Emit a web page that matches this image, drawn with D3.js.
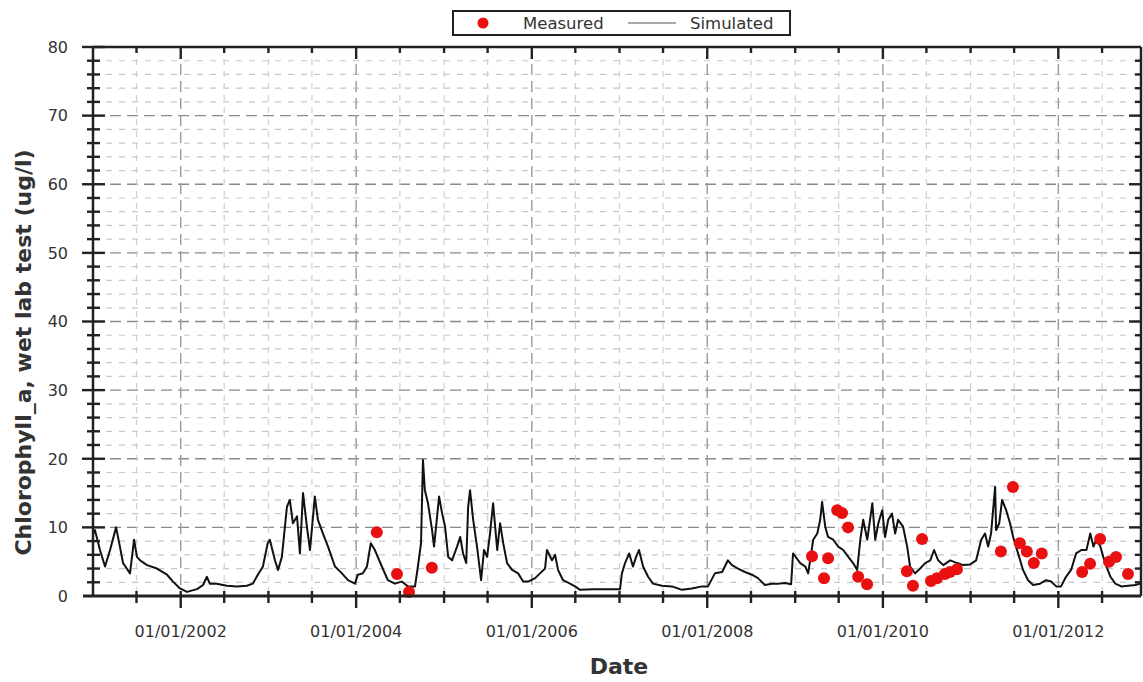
<!DOCTYPE html>
<html>
<head>
<meta charset="utf-8">
<script src="https://cdn.jsdelivr.net/npm/d3@7/dist/d3.min.js"></script>
<style>
  html, body { margin: 0; padding: 0; background: #fff; }
  svg { display: block; font-family: "DejaVu Sans", Verdana, sans-serif; }
</style>
</head>
<body>
<svg id="chart" width="1143" height="682"></svg>
<script>
// Simulated chlorophyll-a series (date, ug/l)
const simDates = [
  "2001-01-01","2001-01-09","2001-01-30","2001-02-20","2001-03-13","2001-04-07","2001-04-23","2001-05-06",
  "2001-06-04","2001-06-21","2001-07-03","2001-07-16","2001-08-14","2001-09-24","2001-11-05","2001-11-30",
  "2001-12-29","2002-01-27","2002-03-10","2002-04-04","2002-04-20","2002-05-02","2002-05-31","2002-07-12",
  "2002-08-23","2002-10-03","2002-10-28","2002-11-18","2002-12-09","2002-12-29","2003-01-07","2003-01-28",
  "2003-02-10","2003-02-26","2003-03-19","2003-03-31","2003-04-13","2003-04-30","2003-05-12","2003-05-25",
  "2003-06-10","2003-06-23","2003-07-13","2003-07-26","2003-08-16","2003-09-06","2003-10-05","2003-11-03",
  "2003-11-28","2003-12-27","2004-01-08","2004-01-29","2004-02-15","2004-03-02","2004-03-19","2004-04-17",
  "2004-05-12","2004-06-10","2004-07-09","2004-08-03","2004-09-02","2004-09-14","2004-09-27","2004-10-05",
  "2004-10-13","2004-10-26","2004-11-12","2004-11-20","2004-12-03","2004-12-11","2004-12-24","2005-01-05",
  "2005-01-18","2005-02-03","2005-02-24","2005-03-09","2005-03-21","2005-04-03","2005-04-11","2005-04-19",
  "2005-05-02","2005-05-18","2005-06-04","2005-06-16","2005-06-29","2005-07-11","2005-07-24","2005-08-10",
  "2005-08-22","2005-09-04","2005-09-20","2005-10-11","2005-11-05","2005-11-26","2005-12-17","2006-01-15",
  "2006-02-04","2006-02-25","2006-03-05","2006-03-26","2006-04-08","2006-04-20","2006-05-11","2006-06-09",
  "2006-06-30","2006-07-21","2006-09-13","2006-11-09","2007-01-03","2007-01-11","2007-01-24","2007-02-10",
  "2007-02-26","2007-03-11","2007-03-23","2007-04-09","2007-04-30","2007-05-20","2007-06-27","2007-08-07",
  "2007-09-18","2007-10-29","2007-12-10","2008-01-04","2008-02-02","2008-03-03","2008-03-27","2008-04-13",
  "2008-05-08","2008-06-06","2008-07-05","2008-07-30","2008-08-28","2008-09-26","2008-10-21","2008-11-20",
  "2008-12-15","2008-12-23","2009-01-22","2009-02-12","2009-02-24","2009-03-17","2009-04-03","2009-04-15",
  "2009-04-23","2009-05-06","2009-05-18","2009-06-08","2009-06-29","2009-07-20","2009-08-10","2009-08-30",
  "2009-09-16","2009-09-29","2009-10-11","2009-10-28","2009-11-18","2009-11-30","2009-12-13","2009-12-29",
  "2010-01-10","2010-01-23","2010-02-08","2010-02-21","2010-03-05","2010-03-26","2010-04-12","2010-04-24",
  "2010-05-15","2010-06-05","2010-06-26","2010-07-17","2010-08-02","2010-08-19","2010-09-09","2010-10-08",
  "2010-11-06","2010-12-01","2010-12-30","2011-01-24","2011-02-14","2011-03-02","2011-03-15","2011-03-27",
  "2011-04-13","2011-04-17","2011-04-30","2011-05-12","2011-05-29","2011-06-14","2011-06-27","2011-07-09",
  "2011-07-26","2011-08-07","2011-08-28","2011-09-18","2011-10-17","2011-11-11","2011-12-02","2011-12-23",
  "2012-01-12","2012-02-02","2012-02-23","2012-03-15","2012-04-06","2012-04-27","2012-05-13","2012-05-26",
  "2012-06-07","2012-06-24","2012-07-06","2012-07-19","2012-08-05","2012-08-25","2012-09-19","2012-10-18",
  "2012-11-16","2012-12-07"
];
const simValues = [
  9.0, 9.6, 6.7, 4.3, 6.7, 10.0, 7.2, 4.8,
  3.3, 8.2, 5.7, 5.2, 4.5, 4.0, 3.1, 2.1,
  1.1, 0.6, 1.0, 1.6, 2.8, 1.8, 1.8, 1.5,
  1.4, 1.5, 1.8, 3.1, 4.3, 7.7, 8.2, 5.2,
  3.8, 5.7, 13.0, 14.0, 10.6, 11.6, 6.2, 15.0,
  10.1, 6.7, 14.5, 11.1, 9.1, 7.2, 4.3, 3.3,
  2.3, 1.8, 3.1, 3.3, 4.3, 7.7, 6.7, 4.3,
  2.3, 1.8, 2.1, 1.4, 1.4, 4.3, 7.7, 19.8,
  15.4, 13.5, 9.6, 7.2, 11.6, 14.5, 12.0, 10.1,
  5.7, 5.2, 7.2, 8.6, 6.2, 4.8, 13.0, 15.4,
  11.1, 7.2, 2.3, 6.7, 5.7, 9.1, 13.5, 6.7,
  10.6, 7.7, 4.8, 3.8, 3.3, 2.1, 2.1, 2.6,
  3.3, 4.0, 6.7, 5.2, 6.0, 3.8, 2.3, 1.8,
  1.4, 0.9, 1.0, 1.0, 1.0, 3.3, 4.8, 6.2,
  4.3, 5.7, 6.7, 4.3, 2.8, 1.8, 1.5, 1.4,
  0.9, 1.1, 1.4, 1.4, 3.3, 3.5, 5.2, 4.5,
  4.0, 3.5, 3.1, 2.6, 1.6, 1.8, 1.8, 1.9,
  1.7, 6.2, 4.8, 4.3, 3.3, 8.2, 9.1, 11.1,
  13.7, 10.1, 8.6, 8.2, 7.2, 6.7, 5.7, 4.8,
  3.8, 8.2, 11.1, 8.2, 13.5, 8.2, 10.6, 12.5,
  8.6, 11.1, 12.0, 9.1, 11.1, 10.1, 7.2, 4.3,
  3.3, 4.0, 4.8, 5.2, 6.7, 5.2, 4.5, 5.2,
  4.8, 4.5, 4.6, 5.2, 8.2, 9.1, 7.2, 9.1,
  15.9, 9.6, 10.6, 14.0, 12.5, 10.6, 8.6, 7.2,
  5.2, 3.8, 2.3, 1.6, 1.8, 2.3, 2.1, 1.4,
  1.4, 2.8, 3.8, 6.2, 6.7, 6.7, 9.1, 7.2,
  8.2, 7.2, 5.7, 4.3, 2.8, 1.8, 1.4, 1.5,
  1.6, 1.8
];

// Measured samples (date, ug/l)
const obsDates = [
  "2004-03-27","2004-06-19","2004-08-08","2004-11-11",
  "2009-03-12","2009-05-01","2009-05-18","2009-06-25","2009-07-15","2009-08-09","2009-09-20","2009-10-27",
  "2010-04-11","2010-05-06","2010-06-13","2010-07-20","2010-08-14","2010-09-16","2010-10-07","2010-11-05",
  "2011-05-07","2011-06-26","2011-07-25","2011-08-23","2011-09-21","2011-10-24",
  "2012-04-09","2012-05-12","2012-06-23","2012-07-30","2012-08-28","2012-10-17"
];
const obsValues = [
  9.3, 3.2, 0.6, 4.1,
  5.8, 2.6, 5.5, 12.5, 12.1, 10.0, 2.8, 1.7,
  3.6, 1.5, 8.3, 2.2, 2.6, 3.2, 3.5, 3.9,
  6.5, 15.9, 7.7, 6.5, 4.8, 6.2,
  3.5, 4.7, 8.3, 5.0, 5.7, 3.2
];

const xStart = "2001-01-01";
const xEnd = "2012-12-10";
const xLabelFormat = "%m/%d/%Y";
const yMax = 80;
const yTitle = "Chlorophyll_a, wet lab test (ug/l)";
const xTitle = "Date";
const seriesNames = ["Measured", "Simulated"];

const parse = d3.timeParse("%Y-%m-%d");
const sim = simDates.map((d, i) => ({ date: parse(d), value: simValues[i] }));
const obs = obsDates.map((d, i) => ({ date: parse(d), value: obsValues[i] }));

const margin = { left: 93, right: 2, top: 47, bottom: 86 };
const W = 1143, H = 682;
const svg = d3.select("#chart");

const x = d3.scaleTime().domain([parse(xStart), parse(xEnd)]).range([margin.left, W - margin.right]);
const y = d3.scaleLinear().domain([0, yMax]).range([H - margin.bottom, margin.top]);
const x0 = x.range()[0], x1 = x.range()[1], y0 = y.range()[0], y1 = y.range()[1];

// half-year and two-year tick positions
const minorX = d3.timeMonth.every(6).range(parse(xStart), d3.timeDay.offset(parse(xEnd), 1))
  .filter(d => +d > +parse(xStart));
const majorX = d3.timeYear.every(2).range(parse("2002-01-01"), parse(xEnd));
const isMajorX = d => majorX.some(m => +m === +d);
const minorY = d3.range(2, yMax, 2).filter(v => v % 10 !== 0);
const majorY = d3.range(10, yMax, 10);

const grid = svg.append("g");
// horizontal grid
grid.selectAll("line.hmin").data(minorY).join("line")
  .attr("x1", x0).attr("x2", x1).attr("y1", d => y(d)).attr("y2", d => y(d))
  .attr("stroke", "#c8c8c8").attr("stroke-width", 1.2).attr("stroke-dasharray", "6,7");
grid.selectAll("line.hmaj").data(majorY).join("line")
  .attr("x1", x0).attr("x2", x1).attr("y1", d => y(d)).attr("y2", d => y(d))
  .attr("stroke", "#8a8a8a").attr("stroke-width", 1.4).attr("stroke-dasharray", "11,6");
// vertical grid
grid.selectAll("line.vmin").data(minorX.filter(d => !isMajorX(d))).join("line")
  .attr("x1", d => x(d)).attr("x2", d => x(d)).attr("y1", y1).attr("y2", y0)
  .attr("stroke", "#cfcfcf").attr("stroke-width", 1.2).attr("stroke-dasharray", "6,6");
grid.selectAll("line.vmaj").data(majorX).join("line")
  .attr("x1", d => x(d)).attr("x2", d => x(d)).attr("y1", y1).attr("y2", y0)
  .attr("stroke", "#9a9a9a").attr("stroke-width", 1.4).attr("stroke-dasharray", "11,6");

// simulated line
svg.append("path").datum(sim)
  .attr("fill", "none").attr("stroke", "#111").attr("stroke-width", 2)
  .attr("stroke-linejoin", "round")
  .attr("d", d3.line().x(d => x(d.date)).y(d => y(d.value)));

// measured points
svg.append("g").selectAll("circle").data(obs).join("circle")
  .attr("cx", d => x(d.date)).attr("cy", d => y(d.value)).attr("r", 6)
  .attr("fill", "#e81010");

// axes
const axisColor = "#222";
const axes = svg.append("g").attr("stroke", axisColor);
axes.append("line").attr("x1", x0).attr("x2", x0).attr("y1", y1).attr("y2", y0).attr("stroke-width", 2.5);
axes.append("line").attr("x1", x1).attr("x2", x1).attr("y1", y1).attr("y2", y0).attr("stroke-width", 2.5);
axes.append("line").attr("x1", x0).attr("x2", x1).attr("y1", y1).attr("y2", y1).attr("stroke-width", 2.5);
axes.append("line").attr("x1", x0 - 10).attr("x2", x1).attr("y1", y0).attr("y2", y0).attr("stroke-width", 3);

// left / right axis ticks
axes.selectAll("line.ly").data(minorY).join("line")
  .attr("x1", x0 - 6).attr("x2", x0 + 7).attr("y1", d => y(d)).attr("y2", d => y(d)).attr("stroke-width", 2.4);
axes.selectAll("line.lY").data(majorY.concat([yMax])).join("line")
  .attr("x1", x0 - 11).attr("x2", x0 + 12).attr("y1", d => y(d)).attr("y2", d => y(d)).attr("stroke-width", 2.4);
axes.selectAll("line.ry").data(minorY).join("line")
  .attr("x1", x1 - 6).attr("x2", x1).attr("y1", d => y(d)).attr("y2", d => y(d)).attr("stroke-width", 2.4);
axes.selectAll("line.rY").data(majorY).join("line")
  .attr("x1", x1 - 12).attr("x2", x1).attr("y1", d => y(d)).attr("y2", d => y(d)).attr("stroke-width", 2.4);

// bottom / top axis ticks
axes.selectAll("line.bx").data(minorX).join("line")
  .attr("x1", d => x(d)).attr("x2", d => x(d))
  .attr("y1", y0 - 5).attr("y2", d => y0 + (isMajorX(d) ? 12 : 7)).attr("stroke-width", 2.4);
axes.selectAll("line.tx").data(minorX).join("line")
  .attr("x1", d => x(d)).attr("x2", d => x(d))
  .attr("y1", y1).attr("y2", d => y1 + (isMajorX(d) ? 12 : 6)).attr("stroke-width", 2.4);

// tick labels
const labels = svg.append("g").attr("fill", "#333").attr("font-size", 16);
labels.selectAll("text.yl").data([0].concat(majorY, [yMax])).join("text")
  .attr("x", x0 - 25).attr("y", d => y(d)).attr("dy", "0.36em")
  .attr("text-anchor", "end").text(d => d);
const fmt = d3.timeFormat(xLabelFormat);
labels.selectAll("text.xl").data(majorX).join("text")
  .attr("x", d => x(d)).attr("y", y0 + 41)
  .attr("text-anchor", "middle").text(d => fmt(d));

// axis titles
svg.append("text").attr("x", (x0 + x1) / 2 + 2).attr("y", 674)
  .attr("text-anchor", "middle").attr("font-weight", "bold").attr("font-size", 22)
  .attr("fill", "#333").text(xTitle);
svg.append("text")
  .attr("transform", `translate(31, ${(y0 + y1) / 2 + 31}) rotate(-90)`)
  .attr("text-anchor", "middle").attr("font-weight", "bold").attr("font-size", 22)
  .attr("fill", "#333").text(yTitle);

// legend
const lg = svg.append("g");
lg.append("rect").attr("x", 453).attr("y", 11).attr("width", 337).attr("height", 24)
  .attr("fill", "#fff").attr("stroke", "#222").attr("stroke-width", 2);
lg.append("circle").attr("cx", 483).attr("cy", 23).attr("r", 5.5).attr("fill", "#e81010");
lg.append("text").attr("x", 523).attr("y", 23).attr("dy", "0.36em").attr("font-size", 16.5)
  .attr("fill", "#333").text(seriesNames[0]);
lg.append("line").attr("x1", 628).attr("x2", 676).attr("y1", 23).attr("y2", 23)
  .attr("stroke", "#555").attr("stroke-width", 1);
lg.append("text").attr("x", 690).attr("y", 23).attr("dy", "0.36em").attr("font-size", 16.5)
  .attr("fill", "#333").text(seriesNames[1]);
</script>
</body>
</html>
